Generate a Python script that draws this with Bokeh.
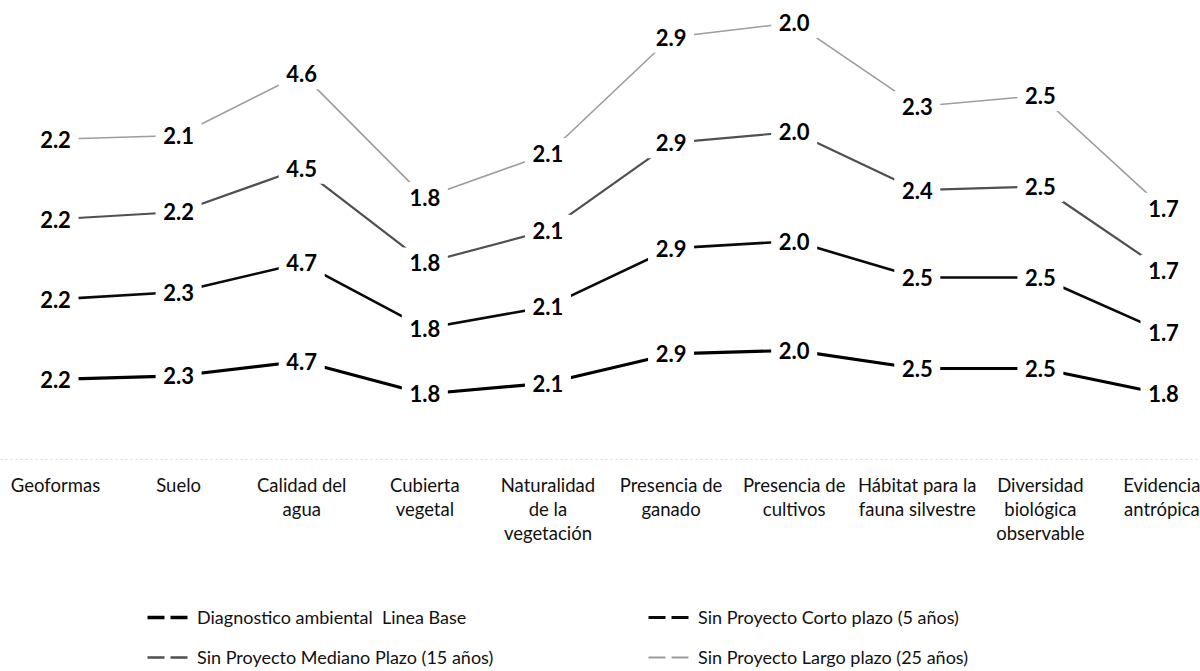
import numpy as np
from bokeh.plotting import figure
from bokeh.layouts import column
from bokeh.models import ColumnDataSource, Range1d, FixedTicker, Legend, LegendItem
from bokeh.core.properties import value
from bokeh.embed import file_html
from bokeh.resources import INLINE

# ---------------- data ----------------
categories = ["Geoformas", "Suelo", "Calidad del agua", "Cubierta vegetal",
              "Naturalidad de la vegetación", "Presencia de ganado",
              "Presencia de cultivos", "Hábitat para la fauna silvestre",
              "Diversidad biológica observable", "Evidencia antrópica"]
tick_labels = ["Geoformas", "Suelo", "Calidad del\nagua", "Cubierta\nvegetal",
               "Naturalidad\nde la\nvegetación", "Presencia de\nganado",
               "Presencia de\ncultivos", "Hábitat para la\nfauna silvestre",
               "Diversidad\nbiológica\nobservable", "Evidencia\nantrópica"]

series_names = ["Diagnostico ambiental  Linea Base",
                "Sin Proyecto Corto plazo (5 años)",
                "Sin Proyecto Mediano Plazo (15 años)",
                "Sin Proyecto Largo plazo (25 años)"]

# plotted (stacked) values as drawn in the picture
linea_base = [2.2, 2.3, 2.7, 1.8, 2.1, 2.9, 3.0, 2.5, 2.5, 1.8]
corto      = [2.2, 2.3, 2.7, 1.8, 2.1, 2.9, 3.0, 2.5, 2.5, 1.7]
mediano    = [2.2, 2.2, 2.6, 1.8, 2.1, 2.9, 3.0, 2.4, 2.5, 1.7]
largo      = [2.2, 2.1, 2.6, 1.8, 2.1, 2.9, 3.0, 2.3, 2.5, 1.7]

# data labels as printed in the picture
linea_base_labels = ["2.2", "2.3", "4.7", "1.8", "2.1", "2.9", "2.0", "2.5", "2.5", "1.8"]
corto_labels      = ["2.2", "2.3", "4.7", "1.8", "2.1", "2.9", "2.0", "2.5", "2.5", "1.7"]
mediano_labels    = ["2.2", "2.2", "4.5", "1.8", "2.1", "2.9", "2.0", "2.4", "2.5", "1.7"]
largo_labels      = ["2.2", "2.1", "4.6", "1.8", "2.1", "2.9", "2.0", "2.3", "2.5", "1.7"]

series_values = [linea_base, corto, mediano, largo]
series_labels = [linea_base_labels, corto_labels, mediano_labels, largo_labels]
colors = ["#000000", "#0a0a0a", "#505050", "#9c9c9c"]
widths = [3.2, 2.6, 2.2, 1.6]

# ---------------- chart ----------------
x = np.arange(len(categories))
stacked = np.cumsum(np.array(series_values, dtype=float), axis=0)

p = figure(frame_width=1200, frame_height=459,
           x_range=Range1d(-0.4468, 9.3005), y_range=Range1d(0, 12.61),
           output_backend="svg", toolbar_location=None, y_axis_location=None,
           min_border_left=0, min_border_right=0, min_border_top=0, min_border_bottom=110,
           background_fill_color="white", border_fill_color="white")
p.grid.visible = False
p.outline_line_color = None

sources = []
line_renderers = []
for i in range(4):
    src = ColumnDataSource(dict(x=x, y=stacked[i], label=series_labels[i]))
    sources.append(src)
    line_renderers.append(p.line("x", "y", source=src, line_color=colors[i], line_width=widths[i]))

for src in sources:
    p.rect("x", "y", width=46, height=31, width_units="screen", height_units="screen",
           source=src, fill_color="white", line_color=None)

for src in sources:
    p.text("x", "y", text="label", source=src, text_font=value("Lato"),
           text_font_style="bold", text_font_size="22px", text_align="center",
           text_baseline="middle", text_color="#000000")

ax = p.xaxis[0]
ax.ticker = FixedTicker(ticks=list(range(len(categories))))
ax.major_label_overrides = {i: t for i, t in enumerate(tick_labels)}
ax.major_label_text_font = "Lato"
ax.major_label_text_font_size = "18.5px"
ax.major_label_text_line_height = 1.1
ax.major_label_text_color = "#111111"
ax.major_label_standoff = 8
ax.major_tick_line_color = None
ax.minor_tick_line_color = None
ax.axis_line_color = "#dddddd"
ax.axis_line_dash = "2 3"

# ---------------- legend strip ----------------
leg = figure(frame_width=1200, frame_height=102, x_range=Range1d(0, 1), y_range=Range1d(0, 1),
             output_backend="svg", toolbar_location=None,
             x_axis_location=None, y_axis_location=None,
             min_border_left=0, min_border_right=0, min_border_top=0, min_border_bottom=0,
             background_fill_color="white", border_fill_color="white")
leg.grid.visible = False
leg.outline_line_color = None

# legend samples: same series drawn (off-view) with a dashed pattern
legend_renderers = []
for i in range(4):
    r = leg.line(x=x + 10, y=stacked[i], line_color=colors[i], line_width=widths[i] + 0.4,
                 line_dash="17 6")
    legend_renderers.append(r)

order = [0, 2, 1, 3]
legend = Legend(items=[LegendItem(label=series_names[i], renderers=[legend_renderers[i]]) for i in order],
                orientation="vertical", ncols=2, location=(147, 3),
                label_text_font="Lato", label_text_font_size="18px", label_text_color="#111111",
                glyph_width=45, glyph_height=20, label_standoff=5, label_width=433,
                spacing=18, padding=0, margin=0, border_line_color=None,
                background_fill_alpha=0)
leg.add_layout(legend, "center")

layout = column(p, leg, spacing=0)
open("out.html", "w").write(file_html(layout, INLINE))
